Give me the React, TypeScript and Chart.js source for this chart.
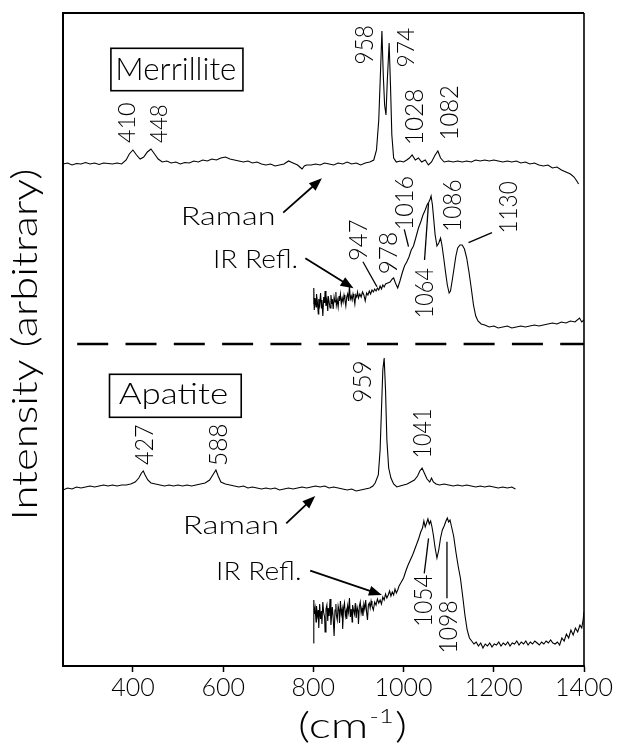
import React, { useEffect, useRef } from "react";
import { Chart, registerables } from "chart.js";
Chart.register(...registerables);

const X_MIN = 245;
const X_MAX = 1400;
const Y_MIN = 0;
const Y_MAX = 653;
const xTickValues = [400, 600, 800, 1000, 1200, 1400];

// Merrillite Raman spectrum
const merrRamanX = [245,255,265,275,285,295,305,315,325,335,345,355,365,375,385,392,400,408,416,424,432,440,448,456,465,475,485,495,505,515,525,535,545,555,565,575,585,595,605,615,625,635,645,655,665,675,685,695,705,715,725,735,745,755,765,770,775,780,785,795,805,815,825,835,845,855,865,875,885,895,905,915,925,934,940,945,949,952,955,958,961,964,968,971,974,978,984,992,1000,1007,1013,1019,1026,1033,1040,1048,1055,1062,1070,1076,1082,1090,1100,1110,1120,1130,1140,1150,1160,1170,1180,1190,1200,1210,1220,1230,1240,1250,1260,1270,1280,1290,1300,1310,1320,1330,1340,1350,1360,1370,1378,1384,1388];
const merrRamanY = [502,503,501,502.5,502,503.5,502,503,501.5,503,502.5,502,503,502,506,512,516,511,507,509,514,517,512,507,504,505,503,504,502,503.5,503,505,504,506,505,507,506,508,509,507,506,505,504,505,503,504,502,501,502,500,501,502,505,503,501,499,497,500,501,501,502,501,503,502,501,503,502,504,502,503,501,503,504,506,516,546,596,635,591,561,551,586,623,581,531,508,504,505,504,506,508,511,506,508,504,506,501,504,511,515,508,504,505,504,505,504,505,504,506,505,506,505,506,505,504,505,504,505,503,504,502,503,501,500,501,498,499,496,494,492,489,485,482];

// Merrillite IR reflectance spectrum
const merrIrX = [800,801,802,804,806,807,809,811,812,814,816,818,819,821,823,825,826,828,830,832,833,835,837,839,841,842,844,846,848,850,851,853,855,857,858,860,862,864,866,868,870,872,874,876,878,880,882,884,886,888,890,892,894,896,898,900,903,906,909,912,915,918,921,924,927,930,933,936,939,942,945,948,951,954,957,960,965,970,975,978,982,987,992,997,1002,1007,1012,1017,1022,1027,1033,1038,1043,1048,1052,1056,1059,1061,1064,1067,1070,1074,1078,1082,1085,1089,1093,1097,1101,1104,1108,1112,1116,1120,1125,1130,1135,1140,1145,1150,1155,1160,1165,1172,1180,1190,1200,1210,1220,1230,1240,1250,1260,1270,1280,1290,1300,1310,1320,1330,1340,1350,1360,1370,1380,1390,1395,1400];
const merrIrY = [362,378,356,368,359,372,364,352,367,361,373,358,366,350,369,363,375,360,366,355,370,364,358,371,362,367,357,369,364,374,361,366,359,370,365,372,362,368,364,371,366,360,369,372,365,380,367,370,366,372,368,362,371,369,374,368,372,369,374,371,365,373,371,375,372,376,374,377,375,378,376,380,377,381,379,382,383,384,387,388,383,378,385,393,400,404,409,416,420,428,438,444,451,456,461,464,467,470,461,446,431,420,423,428,421,408,394,381,373,375,386,398,410,418,421,421,417,408,394,378,361,350,345,342,341,339,340,338,339,340,338,339,340,339,340,341,340,341,342,343,342,344,343,345,344,348,344,346];

// Apatite Raman spectrum
const apaRamanX = [245,255,265,275,285,295,305,315,325,335,345,355,365,375,385,395,405,413,419,423,427,433,440,450,460,470,480,490,500,510,520,530,540,550,560,570,577,584,589,595,605,615,625,635,645,655,665,675,685,695,705,715,725,735,745,755,765,775,785,795,805,815,825,835,845,855,865,875,885,895,905,915,925,932,937,944,948,951,954,957,960,963,967,972,978,985,992,1000,1008,1016,1024,1031,1036,1041,1046,1052,1058,1062,1066,1072,1080,1090,1100,1110,1120,1130,1140,1150,1160,1170,1180,1190,1200,1210,1220,1230,1240,1248];
const apaRamanY = [176,178,177,179,178,179,180,179,180,181,180,181,180,181,181,182,184,188,193,195,191,186,183,182,181,180,181,180,181,180,181,180,181,182,183,186,191,196,190,184,182,181,180,179,180,178,179,178,177,178,177,178,176,177,178,177,178,179,178,179,180,179,180,178,179,178,177,176,177,175,176,177,178,180,183,191,216,256,296,308,276,226,198,188,182,179,180,181,182,184,186,190,195,198,193,187,184,188,184,182,181,182,181,180,181,180,181,180,179,180,179,180,179,178,179,178,179,177];

// Apatite IR reflectance spectrum
const apaIrX = [800,801,802,804,806,807,809,811,812,814,816,818,819,821,823,825,826,828,830,832,833,835,837,839,841,842,844,846,848,850,851,853,855,857,858,860,862,864,865,867,869,871,873,874,876,878,880,882,884,886,887,889,891,893,895,897,899,900,902,904,906,908,910,912,914,916,918,920,922,924,926,928,930,933,936,939,942,945,948,951,954,957,960,963,966,969,972,975,978,981,984,987,990,995,1000,1005,1010,1015,1020,1025,1030,1034,1038,1042,1045,1048,1051,1054,1057,1060,1063,1066,1070,1074,1078,1082,1086,1090,1094,1097,1100,1103,1107,1111,1116,1121,1126,1131,1136,1141,1146,1151,1156,1161,1166,1171,1176,1181,1186,1191,1196,1201,1206,1211,1216,1221,1226,1231,1236,1241,1246,1251,1256,1261,1266,1271,1276,1281,1286,1291,1296,1301,1306,1311,1316,1321,1326,1331,1336,1341,1346,1351,1356,1361,1366,1371,1376,1381,1386,1391,1395,1398,1400];
const apaIrY = [23,66,52,58,44,60,50,56,38,62,47,55,42,64,53,49,34,57,61,45,58,50,67,41,54,59,48,30,56,62,51,46,60,55,43,65,52,57,37,58,63,50,55,47,60,54,68,49,57,44,61,56,52,63,48,59,55,42,60,64,53,58,50,62,57,66,54,46,61,63,58,65,60,56,64,61,67,63,66,62,69,66,72,68,71,75,70,74,71,77,73,76,80,84,88,95,101,106,111,117,123,128,134,138,145,139,143,147,142,145,139,131,118,108,116,128,136,140,145,148,144,146,138,130,114,100,88,70,51,36,28,25,22,24,20,23,18,22,20,23,19,22,21,24,20,23,21,24,20,23,22,25,21,24,22,25,21,24,22,25,23,21,24,22,25,23,26,23,22,24,21,28,25,32,28,36,31,38,34,41,38,46,54];

// Annotations (wavenumber, intensity anchors)
const peakLabels: [string, number, number, number, number][] = [
  ["410", 386.7, 543, 40, 17],
  ["448", 456.1, 542, 38, 17],
  ["958", 912.8, 621, 37, 18],
  ["974", 1003.7, 618.5, 38, 17],
  ["1028", 1023.7, 549.3, 53, 18],
  ["1082", 1101.3, 553.5, 52, 18],
  ["947", 899.5, 426, 40, 18],
  ["978", 965, 412.7, 40, 18],
  ["1016", 1000, 463.5, 52, 18],
  ["1064", 1045.9, 373.5, 48, 18],
  ["1086", 1107.2, 461, 50, 18],
  ["1130", 1231, 459.3, 50, 18],
  ["427", 425, 221, 40, 18],
  ["588", 588, 221, 40, 18],
  ["959", 907.7, 284.3, 40, 18],
  ["1041", 1040.7, 232.7, 47, 18],
  ["1054", 1042.5, 66, 50, 18],
  ["1098", 1098, 39.3, 50, 18],
];
const textLabels: [string, number, number, number, number][] = [
  ["Raman", 611.3, 450, 90, 18],
  ["IR Refl.", 673.4, 407, 82, 18],
  ["Raman", 617.9, 141.5, 92, 19],
  ["IR Refl.", 680, 96, 82, 19],
  ["Merrillite", 497.6, 596.8, 117, 22],
  ["Apatite", 488.2, 272.3, 108, 21],
];
const boxes: [number, number, number, number][] = [
  [351.2, 643.9, 617.7, 575.3],
  [348.1, 640.1, 291.7, 248.7],
];
const leaders: [number, number, number, number][] = [
  [909.9, 404.3, 941, 379.3],
  [1001.5, 436.7, 1011, 419.3],
  [1046.5, 406, 1055.3, 462.7],
  [1196, 433.3, 1144, 423.3],
  [1045.9, 92.7, 1055.4, 127.7],
  [1096.2, 67.7, 1096.2, 124.3],
];
const arrows: [number, number, number, number][] = [
  [733.2, 453.3, 819, 487.7],
  [782.2, 407.7, 889.1, 377.7],
  [739.9, 142.7, 804.2, 170],
  [793, 95.3, 952, 71],
];
const dividerY = 322;
const dividerStartX = 276.5;

const FONT = 'Lato, "DejaVu Sans", sans-serif';
const WEIGHT = "300";

function capRatio(ctx: CanvasRenderingContext2D) {
  ctx.font = `${WEIGHT} 100px ${FONT}`;
  return ctx.measureText("H").actualBoundingBoxAscent / 100;
}

function fitText(
  ctx: CanvasRenderingContext2D,
  text: string,
  cx: number,
  cy: number,
  w: number,
  cap: number,
  rot: number
) {
  const size = cap / capRatio(ctx);
  ctx.save();
  ctx.translate(cx, cy);
  if (rot) ctx.rotate(rot);
  ctx.font = `${WEIGHT} ${size}px ${FONT}`;
  const m = ctx.measureText(text);
  const inkW = m.actualBoundingBoxLeft + m.actualBoundingBoxRight;
  const sx = w / inkW;
  ctx.scale(sx, 1);
  ctx.textAlign = "left";
  ctx.textBaseline = "alphabetic";
  ctx.fillStyle = "#000";
  ctx.fillText(text, -(m.actualBoundingBoxRight - m.actualBoundingBoxLeft) / 2, cap / 2);
  ctx.restore();
}

const overlay = {
  id: "overlay",
  afterDatasetsDraw(chart: any) {
    const ctx: CanvasRenderingContext2D = chart.ctx;
    const xs = chart.scales.x;
    const ys = chart.scales.y;
    const area = chart.chartArea;
    const px = (v: number) => xs.getPixelForValue(v);
    const py = (v: number) => ys.getPixelForValue(v);
    ctx.save();
    ctx.strokeStyle = "#000";
    ctx.fillStyle = "#000";
    // frame top & right
    ctx.lineWidth = 2;
    ctx.beginPath();
    ctx.moveTo(area.left - 1, area.top);
    ctx.lineTo(area.right, area.top);
    ctx.stroke();
    ctx.lineWidth = 1.6;
    ctx.beginPath();
    ctx.moveTo(area.right, area.top);
    ctx.lineTo(area.right, area.bottom);
    ctx.stroke();
    // divider
    ctx.lineWidth = 2.4;
    ctx.setLineDash([31, 17.3]);
    ctx.beginPath();
    ctx.moveTo(px(dividerStartX), py(dividerY));
    ctx.lineTo(area.right, py(dividerY));
    ctx.stroke();
    ctx.setLineDash([]);
    // boxes
    ctx.lineWidth = 1.6;
    for (const [x0, x1, y0, y1] of boxes) {
      ctx.strokeRect(px(x0), py(y0), px(x1) - px(x0), py(y1) - py(y0));
    }
    // leaders
    ctx.lineWidth = 1.3;
    for (const [x0, y0, x1, y1] of leaders) {
      ctx.beginPath();
      ctx.moveTo(px(x0), py(y0));
      ctx.lineTo(px(x1), py(y1));
      ctx.stroke();
    }
    // arrows
    for (const [x0, y0, x1, y1] of arrows) {
      const ax = px(x0), ay = py(y0), bx = px(x1), by = py(y1);
      const ang = Math.atan2(by - ay, bx - ax);
      const hl = 13, hw = 5;
      ctx.lineWidth = 1.8;
      ctx.beginPath();
      ctx.moveTo(ax, ay);
      ctx.lineTo(bx - Math.cos(ang) * hl * 0.8, by - Math.sin(ang) * hl * 0.8);
      ctx.stroke();
      ctx.beginPath();
      ctx.moveTo(bx, by);
      ctx.lineTo(bx - Math.cos(ang) * hl - Math.sin(ang) * hw, by - Math.sin(ang) * hl + Math.cos(ang) * hw);
      ctx.lineTo(bx - Math.cos(ang) * hl + Math.sin(ang) * hw, by - Math.sin(ang) * hl - Math.cos(ang) * hw);
      ctx.closePath();
      ctx.fill();
    }
    // labels
    for (const [t, x, y, w, c] of peakLabels) fitText(ctx, t, px(x), py(y), w, c, -Math.PI / 2);
    for (const [t, x, y, w, c] of textLabels) fitText(ctx, t, px(x), py(y), w, c, 0);
    // y title
    fitText(ctx, "Intensity (arbitrary)", area.left - 38.8, (area.top + area.bottom) / 2 + 3.8, 347, 25, -Math.PI / 2);
    // x title (cm-1)
    const cr = capRatio(ctx);
    const mainSize = 25 / cr;
    const supSize = 13.5 / cr;
    ctx.font = `${WEIGHT} ${mainSize}px ${FONT}`;
    const w1 = ctx.measureText("(cm").width;
    const w3 = ctx.measureText(")").width;
    ctx.font = `${WEIGHT} ${supSize}px ${FONT}`;
    const w2 = ctx.measureText("-1").width;
    const total = w1 + w2 + w3 + 2;
    const sx = 109 / total;
    const baseY = area.bottom + 72;
    ctx.save();
    ctx.translate((area.left + area.right) / 2 + 29, baseY);
    ctx.scale(sx, 1);
    ctx.textAlign = "left";
    ctx.textBaseline = "alphabetic";
    let cx = -total / 2;
    ctx.font = `${WEIGHT} ${mainSize}px ${FONT}`;
    ctx.fillText("(cm", cx, 0);
    cx += w1 + 1;
    ctx.font = `${WEIGHT} ${supSize}px ${FONT}`;
    ctx.fillText("-1", cx, -15);
    cx += w2 + 1;
    ctx.font = `${WEIGHT} ${mainSize}px ${FONT}`;
    ctx.fillText(")", cx, 0);
    ctx.restore();
    ctx.restore();
  },
};

function series(xv: number[], yv: number[]) {
  return {
    data: xv.map((x, i) => ({ x, y: yv[i] })),
    borderColor: "#000",
    borderWidth: 1.1,
    pointRadius: 0,
    tension: 0,
    fill: false,
  };
}

export default function App() {
  const ref = useRef<HTMLCanvasElement | null>(null);
  useEffect(() => {
    if (!ref.current) return;
    const chart = new Chart(ref.current, {
      type: "line",
      data: {
        datasets: [
          series(merrRamanX, merrRamanY),
          series(merrIrX, merrIrY),
          series(apaRamanX, apaRamanY),
          series(apaIrX, apaIrY),
        ] as any,
      },
      options: {
        animation: false,
        responsive: false,
        devicePixelRatio: 1,
        layout: { padding: { top: 13, right: 33, left: 0, bottom: 0 } },
        plugins: { legend: { display: false }, tooltip: { enabled: false } },
        scales: {
          x: {
            type: "linear",
            min: X_MIN,
            max: X_MAX,
            afterBuildTicks: (s: any) => {
              s.ticks = xTickValues.map((v) => ({ value: v }));
            },
            afterFit: (s: any) => {
              s.height = 78;
            },
            ticks: {
              color: "#000",
              padding: 1,
              maxRotation: 0,
              autoSkip: false,
              font: { family: FONT, size: 25, weight: WEIGHT as any, lineHeight: 1.2 },
              callback: (v: any) => String(v),
            },
            grid: { display: true, drawOnChartArea: false, drawTicks: true, tickLength: 6, tickWidth: 1.5, tickColor: "#000" },
            border: { display: true, color: "#000", width: 2 },
          },
          y: {
            type: "linear",
            min: Y_MIN,
            max: Y_MAX,
            afterFit: (s: any) => {
              s.width = 63;
            },
            ticks: { display: false },
            grid: { display: false },
            border: { display: true, color: "#000", width: 2 },
          },
        },
      },
      plugins: [overlay],
    });
    return () => chart.destroy();
  }, []);
  return (
    <div style={{ position: "absolute", left: 0, top: 0, width: 617, height: 744, background: "#fff" }}>
      <canvas ref={ref} width={617} height={744} style={{ width: 617, height: 744, display: "block" }} />
    </div>
  );
}
